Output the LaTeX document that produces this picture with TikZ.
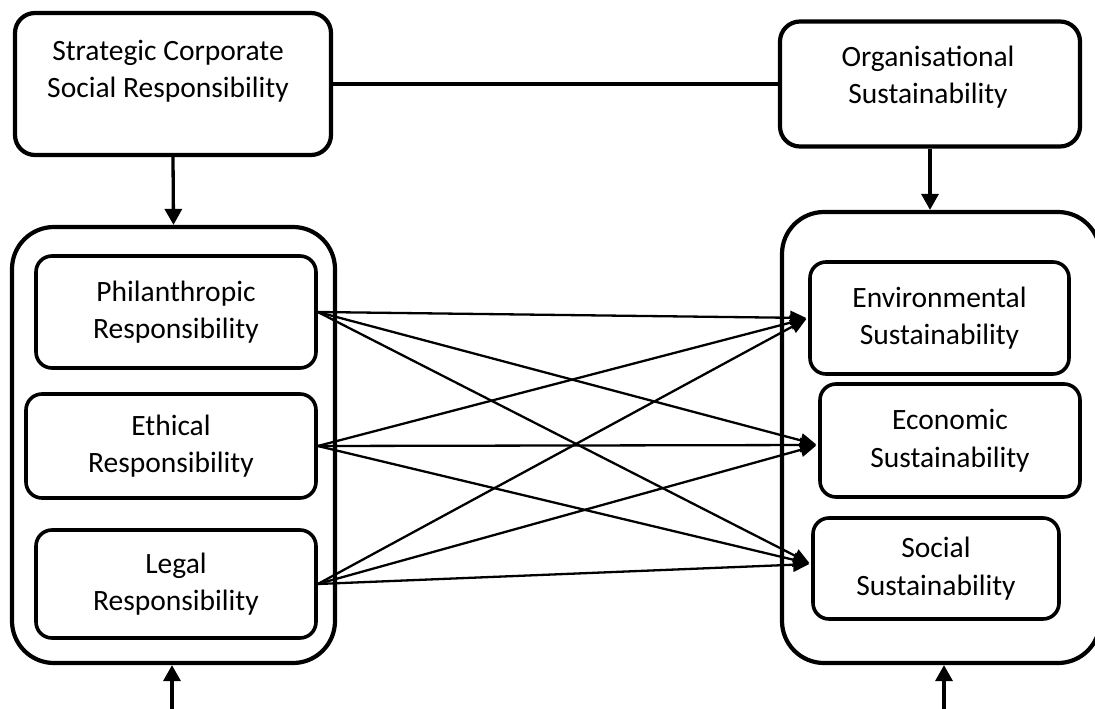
\documentclass[tikz,border=0pt]{standalone}
\usepackage{fontspec}
\setmainfont{Carlito}
\usetikzlibrary{arrows.meta}
\begin{document}
\begin{tikzpicture}[x=1pt,y=-1pt,
  topbox/.style={draw, line width=4.2pt, rounded corners=20pt, inner sep=0pt},
  container/.style={draw, line width=4.2pt, rounded corners=42pt, inner sep=0pt},
  inbox/.style={draw, line width=3.6pt, rounded corners=16pt, inner sep=0pt, align=center,
    font=\fontsize{29.5}{37.5}\selectfont},
  txt/.style={align=center, inner sep=0pt, font=\fontsize{29.5}{37.5}\selectfont},
  conn/.style={line width=2.3pt, -{Triangle[length=16pt,width=14pt]}, shorten >=2pt},
  varrow/.style={line width=3.3pt, -{Triangle[length=16pt,width=17pt]}},
  link/.style={line width=4.2pt}
]
\useasboundingbox (0,0) rectangle (1095,709);
\clip (0,0) rectangle (1095,709);

% top boxes
\node[topbox, minimum width=316pt, minimum height=142pt] (scsr) at (173,84) {};
\node[txt] (scsrtext) at (168,71) {Strategic Corporate\\Social Responsibility};
\node[topbox, minimum width=300pt, minimum height=125pt] (org) at (930,84) {};
\node[txt] (orgtext) at (928,77) {Organisational\\Sustainability};

% containers
\node[container, minimum width=323pt, minimum height=436pt] (lcont) at (173.5,445) {};
\node[container, minimum width=318pt, minimum height=451pt] (rcont) at (941,437.5) {};

% inner boxes left
\node[inbox, minimum width=280pt, minimum height=112pt] (phil) at (176,312) {Philanthropic\\Responsibility};
\node[inbox, minimum width=290pt, minimum height=104pt] (eth) at (171,446) {Ethical\\Responsibility};
\node[inbox, minimum width=280pt, minimum height=108pt] (legal) at (176,584) {Legal\\Responsibility};

% inner boxes right
\node[inbox, minimum width=259pt, minimum height=112pt] (env) at (939.5,318) {Environmental\\Sustainability};
\node[inbox, minimum width=260pt, minimum height=113pt] (econ) at (950,440.5) {Economic\\Sustainability};
\node[inbox, minimum width=246pt, minimum height=101pt] (soc) at (936,568.5) {Social\\Sustainability};

% link between top boxes
\draw[link] (scsr.east) -- (scsr.east -| org.west);

% vertical arrows
\draw[varrow] (scsr.south) -- (lcont.north);
\draw[varrow] (org.south) -- (org.south |- rcont.north);
\coordinate (lbot) at (172,709);
\coordinate (rbot) at (944,709);
\draw[varrow] (lbot) -- (lbot |- lcont.south);
\draw[varrow] (rbot) -- (rbot |- rcont.south);

% cross connectors
\foreach \s in {phil,eth,legal}{
  \draw[conn] (\s.east) -- (env.west);
  \draw[conn] (\s.east) -- ([yshift=-4.5pt]econ.west);
  \draw[conn] (\s.east) -- ([yshift=4.5pt]soc.west);
}
\end{tikzpicture}
\end{document}
